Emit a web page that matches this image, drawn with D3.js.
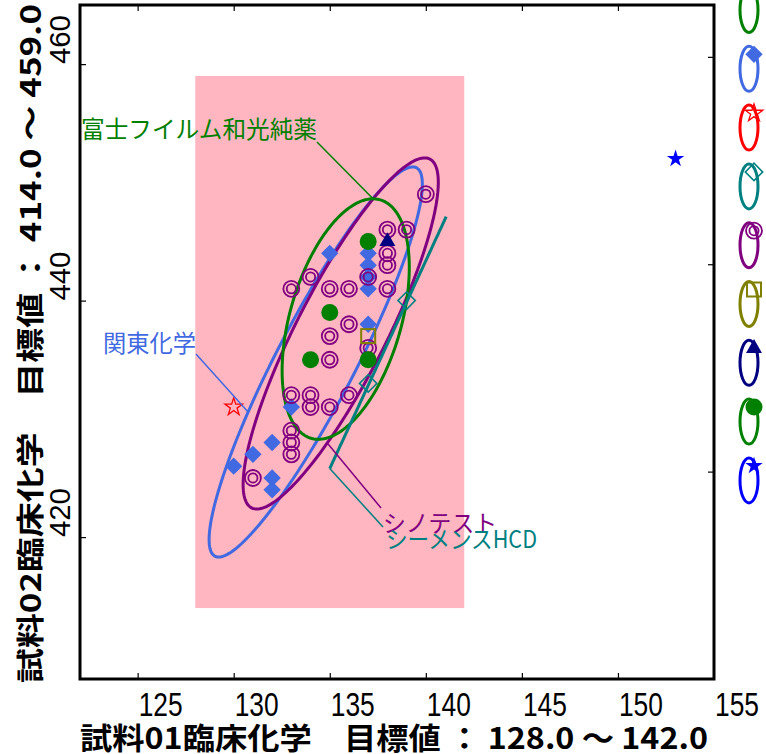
<!DOCTYPE html>
<html><head><meta charset="utf-8">
<script src="https://cdn.jsdelivr.net/npm/d3@7"></script>
<style>html,body{margin:0;padding:0;background:#fff}svg{display:block}</style>
</head><body>
<script>
// ---------- data ----------
const xTicks = [125, 130, 135, 140, 145, 150, 155];
const yTicks = [420, 440, 460];
const rightTicks = [1, 2, 3];
const targetX = [128, 142];
const targetY = [414, 459];

const kantoX = [135, 137, 137, 137, 137, 137, 133, 132, 131, 130, 132, 132];
const kantoY = [444, 444, 443, 442, 441, 438, 431, 428, 427, 426, 425, 424];
const sinoX = [140, 138, 139, 138, 138, 134, 137, 133, 135, 136, 138, 136, 135, 137, 135, 133, 134, 136, 134, 135, 133, 133, 133, 131];
const sinoY = [449, 446, 446, 444, 443, 442, 442, 441, 441, 441, 441, 438, 437, 436, 435, 432, 432, 432, 431, 431, 429, 428, 427, 425];
const siemensX = [139, 137];
const siemensY = [440, 433];
const oliveX = [137];
const oliveY = [437];
const navyX = [138];
const navyY = [445];
const fujiX = [137, 135, 134, 137];
const fujiY = [445, 439, 435, 435];
const redStarX = [130];
const redStarY = [431];
const blueStarX = [153];
const blueStarY = [452];

// ellipse parameters (data units): centre, half-ranges, correlation
const ellipseNames = ['関東化学', 'シノテスト', '富士フイルム和光純薬', 'シーメンスHCD'];
const ellipseCX = [134.27, 135.57, 135.83, 138.03];
const ellipseCY = [434.81, 437.22, 438.44, 436.45];
const ellipseSX = [5.55, 5.08, 3.31, 3.03];
const ellipseSY = [16.5, 14.85, 10.17, 10.65];
const ellipseR = [0.91, 0.86, 0.43, 1.0];

// ---------- layout ----------
const W = 766, H = 754;
const M = {left: 80, right: 714, top: 5, bottom: 679};
const x = d3.scaleLinear([122, 155], [M.left, M.right]);
const y = d3.scaleLinear([408, 465], [M.bottom, M.top]);
const y2 = d3.scaleLinear([0, 3.25], [M.bottom, M.top]);

const C = {
  kanto: '#4169E1', sino: '#800080', siemens: '#008080', olive: '#808000',
  navy: '#000080', fuji: '#008000', red: '#FF0000', blue: '#0000FF', pink: '#FFB6C1'
};
const ellipseColors = [C.kanto, C.sino, C.fuji, C.siemens];

const svg = d3.select('body').append('svg').attr('width', W).attr('height', H);
svg.append('rect').attr('width', W).attr('height', H).attr('fill', '#fff');

// target range
svg.append('rect')
  .attr('x', x(targetX[0])).attr('y', y(targetY[1]))
  .attr('width', x(targetX[1]) - x(targetX[0]))
  .attr('height', y(targetY[0]) - y(targetY[1]))
  .attr('fill', C.pink);

// ellipses
function ellPt(i, t) {
  const phi = Math.acos(Math.min(1, ellipseR[i]));
  return [x(ellipseCX[i] + ellipseSX[i] * Math.cos(t)),
          y(ellipseCY[i] + ellipseSY[i] * Math.cos(t - phi))];
}
const line = d3.line().curve(d3.curveLinearClosed);
ellipseNames.forEach((n, i) => {
  const pts = d3.range(0, 2 * Math.PI, Math.PI / 90).map(t => ellPt(i, t));
  svg.append('path').attr('d', line(pts)).attr('fill', 'none')
    .attr('stroke', ellipseColors[i]).attr('stroke-width', 3);
});

// marker drawing
function marker(g, type, color, px, py) {
  if (type === 'diamondF' || type === 'diamondO') {
    g.append('path').attr('d', d3.symbol(d3.symbolSquare, 150)())
      .attr('transform', `translate(${px},${py}) rotate(45)`)
      .attr('fill', type === 'diamondF' ? color : 'none')
      .attr('stroke', type === 'diamondF' ? 'none' : color)
      .attr('stroke-width', 1.6);
  } else if (type === 'dbl') {
    [8, 4.6].forEach(r => g.append('circle').attr('cx', px).attr('cy', py).attr('r', r)
      .attr('fill', 'none').attr('stroke', color).attr('stroke-width', 1.8));
  } else if (type === 'circle') {
    g.append('circle').attr('cx', px).attr('cy', py).attr('r', 8.5).attr('fill', color);
  } else if (type === 'square') {
    g.append('rect').attr('x', px - 7).attr('y', py - 7).attr('width', 14).attr('height', 14)
      .attr('fill', 'none').attr('stroke', color).attr('stroke-width', 2);
  } else if (type === 'triangle') {
    g.append('path').attr('d', d3.symbol(d3.symbolTriangle, 110)())
      .attr('transform', `translate(${px},${py})`).attr('fill', color);
  } else if (type === 'starO' || type === 'starF') {
    g.append('path').attr('d', d3.symbol(d3.symbolStar, 95)())
      .attr('transform', `translate(${px},${py})`)
      .attr('fill', type === 'starF' ? color : 'none')
      .attr('stroke', type === 'starF' ? 'none' : color).attr('stroke-width', 1.3);
  }
}

const pointSets = [
  {xs: kantoX, ys: kantoY, type: 'diamondF', color: C.kanto},
  {xs: sinoX, ys: sinoY, type: 'dbl', color: C.sino},
  {xs: siemensX, ys: siemensY, type: 'diamondO', color: C.siemens},
  {xs: oliveX, ys: oliveY, type: 'square', color: C.olive},
  {xs: navyX, ys: navyY, type: 'triangle', color: C.navy},
  {xs: fujiX, ys: fujiY, type: 'circle', color: C.fuji},
  {xs: redStarX, ys: redStarY, type: 'starO', color: C.red},
  {xs: blueStarX, ys: blueStarY, type: 'starF', color: C.blue}
];
const gp = svg.append('g');
pointSets.forEach(s => s.xs.forEach((v, k) => marker(gp, s.type, s.color, x(v), y(s.ys[k]))));

// labels with leader lines
const labels = [
  {i: 2, text: '富士フイルム和光純薬', lx: 81, ly: 138, len: 236, from: [317, 142], t: Math.acos(ellipseR[2])},
  {i: 0, text: '関東化学', lx: 103, ly: 352, len: 93, from: [196, 354], t: 2.258},
  {i: 1, text: 'シノテスト', lx: 383, ly: 532, len: 114, from: [381, 508], t: -1.709},
  {i: 3, text: 'シーメンスHCD', lx: 386, ly: 548, len: 151, from: [383, 527], t: Math.PI}
];
labels.forEach(l => {
  const p = ellPt(l.i, l.t);
  svg.append('line').attr('x1', l.from[0]).attr('y1', l.from[1]).attr('x2', p[0]).attr('y2', p[1])
    .attr('stroke', ellipseColors[l.i]).attr('stroke-width', 1.5);
});
labels.forEach(l => {
  svg.append('text').attr('x', l.lx).attr('y', l.ly).text(l.text)
    .attr('font-family', '"Noto Sans CJK JP", sans-serif').attr('font-size', 24)
    .attr('fill', ellipseColors[l.i])
    .attr('textLength', l.len).attr('lengthAdjust', 'spacingAndGlyphs');
});

// axes (ticks inward)
const tk = g => g.call(s => s.select('.domain').remove())
  .call(s => s.selectAll('line').attr('stroke', '#000').attr('stroke-width', 1.2));
svg.append('g').attr('transform', `translate(0,${M.bottom})`)
  .call(d3.axisBottom(x).tickValues(xTicks.filter(v => v < 155)).tickSize(-6).tickFormat('')).call(tk);
svg.append('g').attr('transform', `translate(0,${M.top})`)
  .call(d3.axisTop(x).tickValues(xTicks.filter(v => v < 155)).tickSize(-6).tickFormat('')).call(tk);
svg.append('g').attr('transform', `translate(${M.left},0)`)
  .call(d3.axisLeft(y).tickValues(yTicks).tickSize(-6).tickFormat('')).call(tk);
svg.append('g').attr('transform', `translate(${M.right},0)`)
  .call(d3.axisRight(y2).tickValues(rightTicks).tickSize(-6).tickFormat('')).call(tk);

svg.append('rect').attr('x', M.left).attr('y', M.top)
  .attr('width', M.right - M.left).attr('height', M.bottom - M.top)
  .attr('fill', 'none').attr('stroke', '#000').attr('stroke-width', 3);

// tick labels
xTicks.forEach(v => {
  svg.append('text').attr('x', x(v) + 1).attr('y', 716).text(String(v))
    .attr('font-family', '"Liberation Sans", sans-serif').attr('font-size', 34)
    .attr('textLength', 44).attr('lengthAdjust', 'spacingAndGlyphs').attr('fill', '#000');
});
yTicks.forEach(v => {
  svg.append('text').attr('transform', `translate(70,${y(v)}) rotate(-90)`).text(String(v))
    .attr('font-family', '"Liberation Sans", sans-serif').attr('font-size', 29)
    .attr('textLength', 49).attr('lengthAdjust', 'spacingAndGlyphs').attr('fill', '#000');
});

// axis titles
svg.append('text').attr('x', M.left).attr('y', 749)
  .attr('text-anchor', 'start').text('試料01臨床化学　目標値 ： 128.0 ～ 142.0')
  .attr('font-family', '"Noto Sans CJK JP", sans-serif').attr('font-weight', 'bold')
  .attr('font-size', 30).attr('textLength', 628).attr('lengthAdjust', 'spacingAndGlyphs');
svg.append('text').attr('transform', `translate(41,683) rotate(-90)`)
  .attr('text-anchor', 'start').text('試料02臨床化学　目標値 ： 414.0 ～ 459.0')
  .attr('font-family', '"Noto Sans CJK JP", sans-serif').attr('font-weight', 'bold')
  .attr('font-size', 28).attr('textLength', 679).attr('lengthAdjust', 'spacingAndGlyphs');

// legend (right side)
const legendColors = [C.fuji, C.kanto, C.red, C.siemens, C.sino, C.olive, C.navy, C.fuji, C.blue];
const legendTypes = [null, 'diamondF', 'starO', 'diamondO', 'dbl', 'square', 'triangle', 'circle', 'starF'];
const lg = svg.append('g');
legendColors.forEach((c, i) => {
  const top = -13.5 + i * 58.8;
  lg.append('ellipse').attr('cx', 749).attr('cy', top + 23.5).attr('rx', 9).attr('ry', 22.5)
    .attr('fill', 'none').attr('stroke', c).attr('stroke-width', 3);
  if (legendTypes[i]) marker(lg, legendTypes[i], c, 754, top + 9);
});
</script>
</body></html>
